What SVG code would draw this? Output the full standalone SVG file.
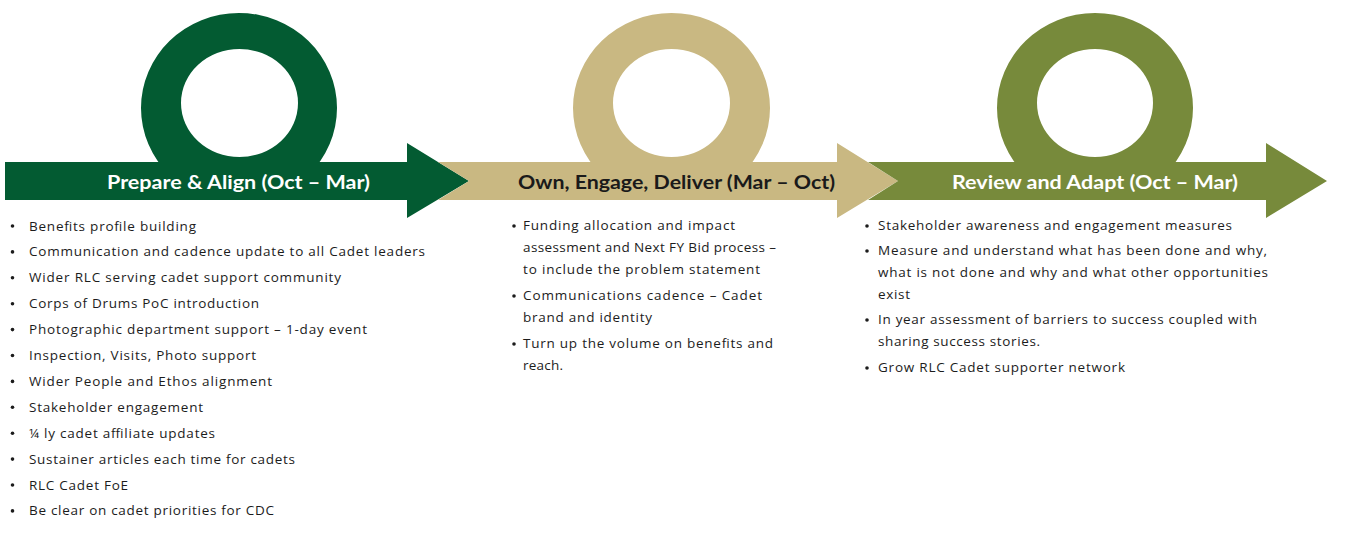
<svg xmlns="http://www.w3.org/2000/svg" width="1365" height="535" viewBox="0 0 1365 535">
  <style>
    .hdr { font-family: Lato, "Open Sans", "Liberation Sans", sans-serif; font-weight: bold; font-size: 19.5px; }
    .body { font-family: "Open Sans", Lato, "Liberation Sans", sans-serif; font-size: 13.5px; fill: #1c1c1c; }
    .green { fill: #035b32; }
    .tan { fill: #c9b882; }
    .olive { fill: #778a3b; }
    .dot { fill: #1c1c1c; }
  </style>
  <defs>
    <clipPath id="ringClip"><rect x="0" y="0" width="1365" height="170"/></clipPath>
  </defs>
  <rect x="0" y="0" width="1365" height="535" fill="#ffffff"/>

  <g id="phase-prepare-align">
    <path class="green" fill-rule="evenodd" clip-path="url(#ringClip)" d="M141,108 a98,95 0 1,0 196,0 a98,95 0 1,0 -196,0 Z M181,103 a58.5,54 0 1,0 117,0 a58.5,54 0 1,0 -117,0 Z"/>
    <polygon class="green" points="5,162 407,162 407,143 469,181 407,218 407,200 5,200"/>
    <text class="hdr" x="107" y="189" fill="#ffffff" textLength="263" lengthAdjust="spacingAndGlyphs">Prepare &amp; Align (Oct – Mar)</text>
    <g class="body">
      <circle class="dot" cx="12.5" cy="226" r="1.8"/><text x="29" y="230.5" textLength="167">Benefits profile building</text>
      <circle class="dot" cx="12.5" cy="251.9" r="1.8"/><text x="29" y="256.4" textLength="396">Communication and cadence update to all Cadet leaders</text>
      <circle class="dot" cx="12.5" cy="277.8" r="1.8"/><text x="29" y="282.3" textLength="312">Wider RLC serving cadet support community</text>
      <circle class="dot" cx="12.5" cy="303.7" r="1.8"/><text x="29" y="308.2" textLength="230">Corps of Drums PoC introduction</text>
      <circle class="dot" cx="12.5" cy="329.6" r="1.8"/><text x="29" y="334.1" textLength="338">Photographic department support – 1-day event</text>
      <circle class="dot" cx="12.5" cy="355.5" r="1.8"/><text x="29" y="360" textLength="227">Inspection, Visits, Photo support</text>
      <circle class="dot" cx="12.5" cy="381.4" r="1.8"/><text x="29" y="385.9" textLength="243">Wider People and Ethos alignment</text>
      <circle class="dot" cx="12.5" cy="407.3" r="1.8"/><text x="29" y="411.8" textLength="174">Stakeholder engagement</text>
      <circle class="dot" cx="12.5" cy="433.2" r="1.8"/><text x="29" y="437.7" textLength="186">¼ ly cadet affiliate updates</text>
      <circle class="dot" cx="12.5" cy="459.1" r="1.8"/><text x="29" y="463.6" textLength="266">Sustainer articles each time for cadets</text>
      <circle class="dot" cx="12.5" cy="485" r="1.8"/><text x="29" y="489.5" textLength="99">RLC Cadet FoE</text>
      <circle class="dot" cx="12.5" cy="510.9" r="1.8"/><text x="29" y="515.4" textLength="245">Be clear on cadet priorities for CDC</text>
    </g>
  </g>

  <g id="phase-own-engage-deliver">
    <path class="tan" fill-rule="evenodd" clip-path="url(#ringClip)" d="M573,108 a98.5,95 0 1,0 197,0 a98.5,95 0 1,0 -197,0 Z M613,103 a58.5,54 0 1,0 117,0 a58.5,54 0 1,0 -117,0 Z"/>
    <polygon class="tan" points="438,162 837,162 837,143 898,181 837,218 837,200 438,200 469,181"/>
    <text class="hdr" x="518" y="189" fill="#1a1a1a" textLength="317" lengthAdjust="spacingAndGlyphs">Own, Engage, Deliver (Mar – Oct)</text>
    <g class="body">
      <circle class="dot" cx="514" cy="226" r="1.8"/>
      <text x="523" y="230" textLength="212">Funding allocation and impact</text>
      <text x="523" y="252" textLength="253">assessment and Next FY Bid process –</text>
      <text x="523" y="274" textLength="237">to include the problem statement</text>
      <circle class="dot" cx="514" cy="296" r="1.8"/>
      <text x="523" y="300" textLength="239">Communications cadence – Cadet</text>
      <text x="523" y="322" textLength="129">brand and identity</text>
      <circle class="dot" cx="514" cy="344" r="1.8"/>
      <text x="523" y="348" textLength="250">Turn up the volume on benefits and</text>
      <text x="523" y="370" textLength="40">reach.</text>
    </g>
  </g>

  <g id="phase-review-adapt">
    <path class="olive" fill-rule="evenodd" clip-path="url(#ringClip)" d="M997,108 a98,95 0 1,0 196,0 a98,95 0 1,0 -196,0 Z M1037,103 a58,54 0 1,0 116,0 a58,54 0 1,0 -116,0 Z"/>
    <polygon class="olive" points="868,162 1266,162 1266,143 1327,181 1266,218 1266,200 868,200 898,181"/>
    <text class="hdr" x="952" y="189" fill="#ffffff" textLength="286" lengthAdjust="spacingAndGlyphs">Review and Adapt (Oct – Mar)</text>
    <g class="body">
      <circle class="dot" cx="867" cy="226" r="1.8"/>
      <text x="878" y="230" textLength="354">Stakeholder awareness and engagement measures</text>
      <circle class="dot" cx="867" cy="251" r="1.8"/>
      <text x="878" y="255" textLength="389">Measure and understand what has been done and why,</text>
      <text x="878" y="277" textLength="390">what is not done and why and what other opportunities</text>
      <text x="878" y="299" textLength="32">exist</text>
      <circle class="dot" cx="867" cy="320" r="1.8"/>
      <text x="878" y="324" textLength="379">In year assessment of barriers to success coupled with</text>
      <text x="878" y="346" textLength="162">sharing success stories.</text>
      <circle class="dot" cx="867" cy="368" r="1.8"/>
      <text x="878" y="372" textLength="247">Grow RLC Cadet supporter network</text>
    </g>
  </g>

  <g id="connectors"></g>
</svg>
